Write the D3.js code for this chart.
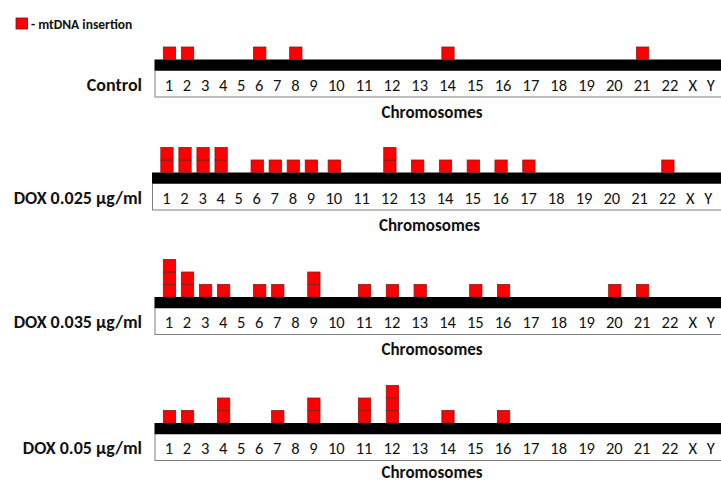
<!DOCTYPE html>
<html>
<head>
<meta charset="utf-8">
<script src="https://cdn.jsdelivr.net/npm/d3@7/dist/d3.min.js"></script>
<style>
  html, body { margin: 0; padding: 0; background: #ffffff; }
  svg { display: block; }
  text { font-family: Carlito, Lato, "Open Sans", sans-serif; fill: #111; }
</style>
</head>
<body>
<svg id="chart" width="721" height="483"></svg>
<script>
// ---- data ----
const chromosomes = ["1","2","3","4","5","6","7","8","9","10","11","12","13","14","15","16","17","18","19","20","21","22","X","Y"];
const panelLabels = ["Control", "DOX 0.025 \u03bcg/ml", "DOX 0.035 \u03bcg/ml", "DOX 0.05 \u03bcg/ml"];
const controlCounts = [1,1,0,0,0,1,0,1,0,0,0,0,0,1,0,0,0,0,0,0,1,0,0,0];
const dox025Counts  = [2,2,2,2,0,1,1,1,1,1,0,2,1,1,1,1,1,0,0,0,0,1,0,0];
const dox035Counts  = [3,2,1,1,0,1,1,0,2,0,1,1,1,0,1,1,0,0,0,1,1,0,0,0];
const dox05Counts   = [1,1,0,2,0,0,1,0,2,0,2,3,0,1,0,1,0,0,0,0,0,0,0,0];
const axisTitle = "Chromosomes";
const legendLabel = "- mtDNA insertion";

const series = [controlCounts, dox025Counts, dox035Counts, dox05Counts];

// ---- layout ----
const svg = d3.select("#chart");
const bandTops = [59.5, 172.5, 297, 423];
const titleOffsets = [58, 58, 58, 54.5];
const panelDx = [0, -2.5, 0, 0];
const bandH = 11, boxH = 26.5;
const boxLeft = 155;
const barW = 12.3, unitH = 12.5;
const digitW = 9.75, gapW = 8.3;

// label centres laid out like a line of text: each label's width in characters plus a gap
const gapUnits = gapW / digitW;
let acc = 0;
const centerUnits = chromosomes.map(c => {
  const ctr = acc + c.length / 2;
  acc += c.length + gapUnits;
  return ctr;
});
const totalUnits = acc - gapUnits;
const x0 = 164.1;
const xScale = d3.scaleLinear().domain([0, totalUnits]).range([x0, x0 + totalUnits * digitW]);
const xPos = d3.scaleOrdinal().domain(chromosomes).range(centerUnits.map(u => xScale(u)));
const yScale = d3.scaleLinear().domain([0, 3]).range([0, 3 * unitH]);

// ---- legend ----
svg.append("rect").attr("x", 16).attr("y", 18).attr("width", 11.5).attr("height", 11)
  .attr("fill", "#ff0000").attr("stroke", "#7a1010").attr("stroke-width", 0.8);
svg.append("text").attr("x", 31).attr("y", 28.5).attr("font-size", 13.5).attr("font-weight", "bold")
  .text(legendLabel);

// ---- panels ----
series.forEach((counts, p) => {
  const top = bandTops[p];
  const dx = panelDx[p];
  const g = svg.append("g").attr("transform", `translate(${dx},0)`);

  // label box
  g.append("rect").attr("x", boxLeft).attr("y", top + bandH)
    .attr("width", 721 - boxLeft + 10).attr("height", boxH)
    .attr("fill", "#fff").attr("stroke", "#7f7f7f").attr("stroke-width", 1);
  // black chromosome band
  g.append("rect").attr("x", boxLeft - 0.5).attr("y", top)
    .attr("width", 721 - boxLeft + 10).attr("height", bandH).attr("fill", "#000");

  // chromosome labels
  g.selectAll("text.chr").data(chromosomes).enter().append("text")
    .attr("class", "chr")
    .attr("x", d => xPos(d))
    .attr("y", top + 31)
    .attr("text-anchor", "middle")
    .attr("font-size", 16.5)
    .text(d => d);

  // insertion boxes (one square per insertion, stacked)
  const cells = [];
  counts.forEach((n, i) => {
    for (let k = 0; k < n; k++) cells.push({ chr: chromosomes[i], k: k });
  });
  g.selectAll("rect.cell").data(cells).enter().append("rect")
    .attr("class", "cell")
    .attr("x", d => xPos(d.chr) + 0.5 - barW / 2)
    .attr("y", d => top - yScale(d.k + 1))
    .attr("width", barW)
    .attr("height", yScale(1))
    .attr("fill", "#ff0000")
    .attr("stroke", "#8a1a1a")
    .attr("stroke-width", 0.8);

  // axis title
  g.append("text").attr("x", 432).attr("y", top + titleOffsets[p])
    .attr("text-anchor", "middle").attr("font-size", 17).attr("font-weight", "bold")
    .text(axisTitle);

  // row label
  svg.append("text").attr("x", 142).attr("y", top + 31)
    .attr("text-anchor", "end").attr("font-size", 18).attr("font-weight", "bold")
    .text(panelLabels[p]);
});
</script>
</body>
</html>
